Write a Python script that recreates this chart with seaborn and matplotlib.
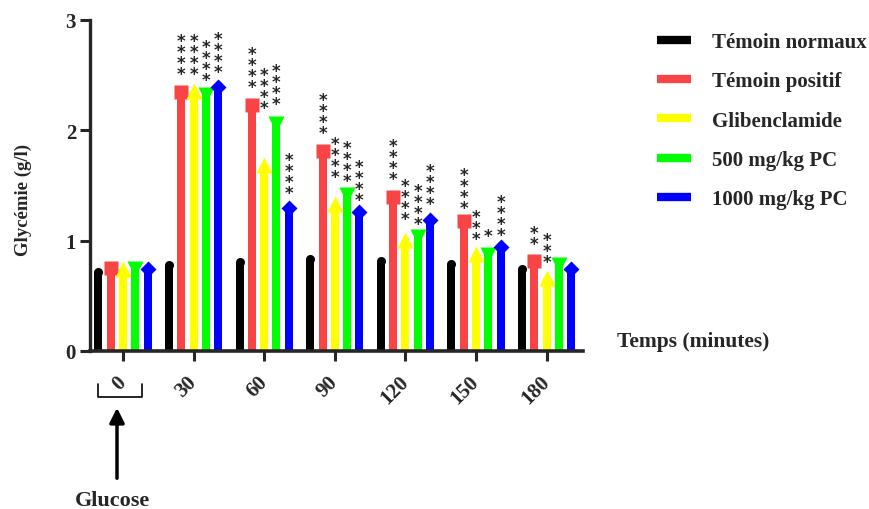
import numpy as np
import pandas as pd
import matplotlib
matplotlib.use("Agg")
import matplotlib.pyplot as plt
import seaborn as sns

# time points (minutes) and treatment groups
times = ["0", "30", "60", "90", "120", "150", "180"]
groups = ["Témoin normaux", "Témoin positif", "Glibenclamide", "500 mg/kg PC", "1000 mg/kg PC"]

# mean glycaemia (g/l)
temoin_normaux = [0.72, 0.78, 0.81, 0.83, 0.82, 0.79, 0.74]
temoin_positif = [0.75, 2.35, 2.23, 1.81, 1.40, 1.18, 0.82]
glibenclamide = [0.74, 2.36, 1.69, 1.33, 1.01, 0.88, 0.66]
pc_500 = [0.74, 2.32, 2.06, 1.41, 1.03, 0.87, 0.78]
pc_1000 = [0.74, 2.39, 1.30, 1.26, 1.19, 0.94, 0.74]

# significance stars and how high above each mean they start (g/l)
stars_normaux = ["", "", "", "", "", "", ""]
stars_positif = ["", "****", "****", "****", "****", "****", "**"]
stars_glib = ["", "****", "****", "****", "****", "***", "***"]
stars_500 = ["", "****", "****", "****", "****", "*", ""]
stars_1000 = ["", "****", "****", "****", "****", "****", ""]
lift_normaux = [0, 0, 0, 0, 0, 0, 0]
lift_positif = [0, 0.14, 0.14, 0.15, 0.14, 0.10, 0.13]
lift_glib = [0, 0.13, 0.49, 0.23, 0.17, 0.12, 0.13]
lift_500 = [0, 0.12, 0.16, 0.11, 0.10, 0.15, 0]
lift_1000 = [0, 0.12, 0.11, 0.09, 0.12, 0.09, 0]

colors = ["#000000", "#F84444", "#FFFF00", "#00FF00", "#0000FF"]
markers = ["o", "s", "^", "v", "D"]
msizes = [6.5, 10, 11, 11, 8.5]

values = [temoin_normaux, temoin_positif, glibenclamide, pc_500, pc_1000]
stars = [stars_normaux, stars_positif, stars_glib, stars_500, stars_1000]
lifts = [lift_normaux, lift_positif, lift_glib, lift_500, lift_1000]

df = pd.DataFrame({
    "Temps": times * len(groups),
    "Groupe": np.repeat(groups, len(times)),
    "Glycemie": np.concatenate(values),
})

sns.set_style("ticks")
plt.rcParams["font.family"] = ["Liberation Serif", "DejaVu Serif"]
plt.rcParams["font.weight"] = "bold"

W, H = 869, 510
fig = plt.figure(figsize=(W / 100, H / 100), dpi=100)
ax = fig.add_axes([90 / W, 1 - 352 / H, (583 - 90) / W, (352 - 21) / H])

def fx(px):
    return px / W

def fy(py):
    return 1 - py / H

sns.barplot(data=df, x="Temps", y="Glycemie", hue="Groupe", order=times, hue_order=groups,
            palette=colors, saturation=1, width=0.87, gap=0.35, errorbar=None, legend=False,
            linewidth=0, ax=ax, zorder=2)

# symbols on top of each bar + stars (one stacked column per bar)
for i, cont in enumerate(ax.containers):
    for j, bar in enumerate(cont):
        xc = bar.get_x() + bar.get_width() / 2
        h = bar.get_height()
        ax.plot(xc, h, marker=markers[i], ms=msizes[i], color=colors[i], mec="none",
                zorder=3, clip_on=False)
        s = stars[i][j]
        if s:
            ax.annotate("\n".join(s), xy=(xc, h + lifts[i][j]), xytext=(0, -5),
                        textcoords="offset points", ha="center", va="bottom",
                        fontsize=12, fontweight="bold", family="DejaVu Sans",
                        linespacing=0.5, zorder=4)

ax.set_ylim(0, 3)
ax.set_yticks([0, 1, 2, 3])
ax.set_xlim(-0.467, 6.515)
ax.set_xlabel("")
ax.set_ylabel("")
ax.set_xticks(range(len(times)))
ax.set_xticklabels(times, rotation=45, ha="right", va="center", rotation_mode="anchor",
                   fontsize=15, fontweight="bold")
ax.tick_params(axis="y", labelsize=15, width=2.2, length=7, pad=3)
ax.tick_params(axis="x", width=2.2, length=7, pad=13)
for t in ax.get_yticklabels():
    t.set_fontweight("bold")
sns.despine(ax=ax)
ax.spines["left"].set_linewidth(2.4)
ax.spines["bottom"].set_linewidth(2.6)

fig.text(fx(23), fy(200), "Glycémie (g/l)", rotation=90, ha="center", va="center",
         fontsize=13.5, fontweight="bold")
fig.text(fx(617), fy(342), "Temps (minutes)", ha="left", va="center",
         fontsize=15.5, fontweight="bold")

# legend
handles = [plt.Line2D([], [], color=c, lw=6, solid_capstyle="butt") for c in colors]
fig.legend(handles, groups, loc="upper left", bbox_to_anchor=(fx(657), fy(33)),
           frameon=False, handlelength=1.65, handletextpad=1.0,
           labelspacing=0.93, borderpad=0, borderaxespad=0,
           prop={"weight": "bold", "size": 15})

# glucose bracket + arrow under t=0
fig.add_artist(plt.Line2D([fx(98), fx(98), fx(142), fx(142)], [fy(385), fy(398), fy(398), fy(385)],
                          color="black", lw=1.2))
ax.annotate("", xy=(fx(117), fy(406)), xytext=(fx(117), fy(482)), xycoords="figure fraction",
            textcoords="figure fraction",
            arrowprops=dict(arrowstyle="-|>", lw=2.5, color="black", mutation_scale=22))
fig.text(fx(112), fy(501), "Glucose", ha="center", va="center", fontsize=16, fontweight="bold")

fig.savefig("out.png", dpi=100)
